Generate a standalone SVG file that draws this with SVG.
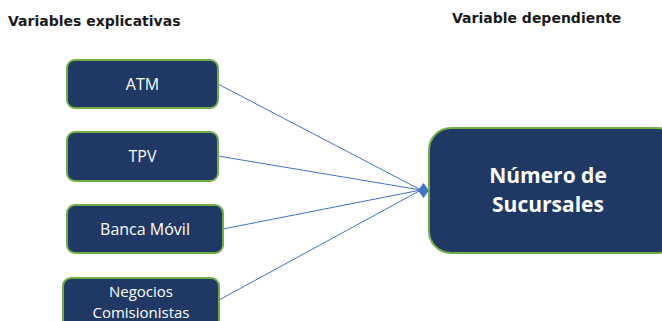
<svg xmlns="http://www.w3.org/2000/svg" width="662" height="321" viewBox="0 0 662 321">
<style>
.box{fill:#203864;stroke:#70AD47;stroke-width:2}
.lbl{font-family:"Open Sans","Noto Sans",sans-serif;fill:#fff;font-size:16px;text-anchor:middle}
.sm{font-size:15px}
.big{font-family:"Open Sans","Noto Sans",sans-serif;fill:#fff;font-size:21px;font-weight:bold;text-anchor:middle}
.hdr{font-family:"DejaVu Sans",sans-serif;font-weight:bold;font-size:14px;fill:#1a1a1a}
.con{stroke:#4472C4;stroke-width:1;fill:none}
</style>
<rect width="662" height="321" fill="#fff"/>
<text class="hdr" x="8" y="26">Variables explicativas</text>
<text class="hdr" x="452" y="23">Variable dependiente</text>
<g id="connectors">
<line class="con" x1="218" y1="84" x2="421" y2="190"/>
<line class="con" x1="218" y1="156" x2="421" y2="190"/>
<line class="con" x1="223" y1="229" x2="421" y2="190"/>
<line class="con" x1="219" y1="300" x2="421" y2="190"/>
<polygon points="418,190.5 423.5,183 429,190.5 423.5,198" fill="#4472C4"/>
</g>
<g id="atm"><rect class="box" x="67" y="60" width="151" height="48" rx="8"/><text class="lbl" x="142.5" y="90">ATM</text></g>
<g id="tpv"><rect class="box" x="67" y="132" width="151" height="49" rx="8"/><text class="lbl" x="142.5" y="162">TPV</text></g>
<g id="banca"><rect class="box" x="67" y="205" width="156" height="48" rx="8"/><text class="lbl" x="145" y="235">Banca Móvil</text></g>
<g id="negocios"><rect class="box" x="63" y="278" width="156" height="60" rx="8"/><text class="lbl sm" x="141" y="297">Negocios</text><text class="lbl sm" x="141" y="318">Comisionistas</text></g>
<g id="sucursales"><rect class="box" x="429" y="128" width="250" height="125" rx="22"/><text class="big" x="548" y="183">Número de</text><text class="big" x="548" y="212">Sucursales</text></g>
</svg>
